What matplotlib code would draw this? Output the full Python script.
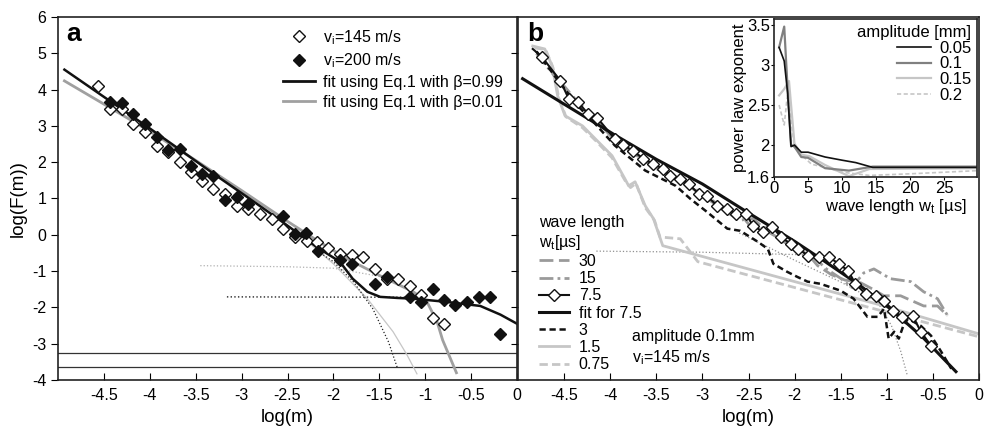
import matplotlib

matplotlib.use("Agg")
import matplotlib.pyplot as plt
from matplotlib.lines import Line2D

plt.rcParams["font.family"] = ["Liberation Sans", "DejaVu Sans"]
plt.rcParams["axes.unicode_minus"] = False
plt.rcParams["mathtext.default"] = "regular"

# ---- panel a: fragment mass distributions ----
open_x = [-4.56, -4.43, -4.30, -4.18, -4.05, -3.92, -3.80, -3.67, -3.55, -3.43, -3.31, -3.18, -3.05,
          -2.93, -2.80, -2.67, -2.55, -2.42, -2.29, -2.18, -2.06, -1.93, -1.80, -1.68, -1.55, -1.42,
          -1.30, -1.17, -1.05, -0.92, -0.80]
open_y = [4.10, 3.47, 3.47, 3.06, 2.84, 2.45, 2.29, 2.01, 1.74, 1.49, 1.27, 1.13, 0.80,
          0.72, 0.58, 0.44, 0.17, -0.06, -0.17, -0.19, -0.36, -0.52, -0.55, -0.60, -0.94, -1.21,
          -1.21, -1.40, -1.65, -2.29, -2.45]
fill_x = [-4.43, -4.30, -4.18, -4.05, -3.92, -3.80, -3.67, -3.55, -3.43, -3.31, -3.18, -3.05, -2.93,
          -2.55, -2.42, -2.30, -2.17, -1.93, -1.80, -1.55, -1.42, -1.17, -1.05, -0.92, -0.80, -0.68,
          -0.55, -0.41, -0.29, -0.18]
fill_y = [3.66, 3.64, 3.33, 3.06, 2.70, 2.34, 2.37, 1.90, 1.68, 1.62, 0.97, 1.03, 0.85,
          0.52, 0.03, 0.06, -0.44, -0.69, -0.80, -1.35, -1.15, -1.71, -1.85, -1.49, -1.79, -1.93,
          -1.85, -1.71, -1.71, -2.73]
fit099_x = [-4.93, -4.5, -4.0, -3.67, -3.31, -2.95, -2.58, -2.18, -1.93, -1.79, -1.63, -1.49,
            -1.3, -1.13, -0.76, -0.40, -0.18, 0.0]
fit099_y = [4.55, 3.8, 2.93, 2.34, 1.69, 1.06, 0.40, -0.34, -0.74, -1.21, -1.57, -1.71,
            -1.74, -1.76, -1.85, -1.96, -2.2, -2.45]
fit001_x = [-4.93, -4.5, -4.0, -3.5, -3.0, -2.5, -2.15, -1.85, -1.49, -1.13, -0.98, -0.87,
            -0.81, -0.76, -0.66]
fit001_y = [4.24, 3.6, 2.85, 2.05, 1.22, 0.37, -0.2, -0.66, -1.13, -1.57, -1.85, -2.40,
            -2.9, -3.2, -3.8]
dot_light_x = [-3.45, -2.5, -2.0, -1.55, -1.4]
dot_light_y = [-0.85, -0.88, -0.92, -1.12, -1.2]
dot_dark_x = [-3.16, -1.2]
dot_dark_y = [-1.71, -1.72]
cut_dark_x = [-2.2, -2.0, -1.78, -1.57, -1.40, -1.30]
cut_dark_y = [-0.4, -0.74, -1.30, -2.04, -2.95, -3.69]
cut_light_x = [-2.3, -2.0, -1.63, -1.35, -1.2, -1.09]
cut_light_y = [-0.15, -0.8, -1.76, -2.67, -3.3, -3.83]
limit_levels = [-3.25, -3.65]

# ---- panel b: wave length series (amplitude 0.1 mm) ----
wl30_x = [-4.8, -4.55, -4.35, -4.15, -3.95, -3.75, -3.55, -3.35, -3.15, -2.95, -2.75, -2.55,
          -2.45, -2.3, -2.15, -2.0, -1.85, -1.75, -1.6, -1.45, -1.3, -1.15, -1.03, -0.85, -0.6,
          -0.45, -0.34]
wl30_y = [5.05, 4.25, 3.65, 3.2, 2.62, 2.28, 1.95, 1.62, 1.38, 1.05, 0.7, 0.45,
          0.15, 0.2, -0.15, -0.35, -0.55, -0.85, -1.1, -1.25, -1.3, -1.5, -1.68, -1.68, -1.96,
          -1.96, -2.23]
wl15_x = [-4.8, -4.55, -4.35, -4.15, -3.95, -3.75, -3.55, -3.35, -3.15, -2.95, -2.75, -2.6,
          -2.45, -2.3, -2.1, -1.95, -1.8, -1.65, -1.5, -1.38, -1.25, -1.14, -0.96, -0.74, -0.6,
          -0.45, -0.34]
wl15_y = [5.0, 4.2, 3.62, 3.15, 2.6, 2.25, 1.9, 1.6, 1.35, 1.0, 0.65, 0.4,
          0.45, 0.1, -0.2, -0.45, -0.6, -0.95, -1.2, -1.45, -1.05, -0.94, -1.21, -1.29, -1.57,
          -1.76, -2.23]
wl75_x = [-4.84, -4.74, -4.54, -4.45, -4.35, -4.24, -4.14, -3.95, -3.86, -3.75, -3.64, -3.54,
          -3.43, -3.35, -3.24, -3.15, -3.04, -2.95, -2.84, -2.73, -2.64, -2.53, -2.45, -2.34,
          -2.24, -2.15, -2.04, -1.96, -1.85, -1.74, -1.63, -1.52, -1.42, -1.34, -1.23, -1.12,
          -1.03, -0.93, -0.83, -0.72, -0.63, -0.52]
wl75_y = [5.12, 4.90, 4.24, 3.75, 3.66, 3.33, 3.22, 2.64, 2.48, 2.31, 2.09, 1.96,
          1.82, 1.63, 1.54, 1.40, 1.13, 1.07, 0.80, 0.72, 0.58, 0.58, 0.25, 0.08,
          0.22, -0.06, -0.25, -0.39, -0.58, -0.61, -0.61, -0.80, -0.99, -1.35, -1.63, -1.68,
          -1.82, -2.09, -2.26, -2.23, -2.67, -3.06]
fit75_x = [-4.95, -4.5, -3.95, -3.5, -3.0, -2.53, -2.0, -1.68, -1.3, -0.96, -0.6, -0.25]
fit75_y = [4.3, 3.6, 2.75, 2.08, 1.4, 0.65, -0.18, -0.72, -1.38, -2.04, -2.85, -3.77]
wl3_x = [-4.8, -4.55, -4.35, -4.16, -3.95, -3.62, -3.29, -3.13, -2.95, -2.73, -2.59, -2.40,
         -2.29, -2.23, -2.08, -1.97, -1.86, -1.72, -1.50, -1.36, -1.21, -1.10, -1.03, -0.98,
         -0.92, -0.87, -0.82, -0.77, -0.63, -0.52, -0.41, -0.30]
wl3_y = [5.05, 4.2, 3.55, 3.05, 2.46, 1.77, 1.35, 0.99, 0.63, 0.17, 0.11, -0.19,
         -0.39, -0.80, -1.02, -1.16, -1.29, -1.35, -1.54, -1.76, -2.26, -2.26, -2.04, -2.86,
         -2.67, -2.86, -2.5, -2.31, -2.51, -2.78, -3.22, -3.69]
wl15s_x = [-4.84, -4.71, -4.63, -4.57, -4.49, -4.30, -4.16, -3.98, -3.84, -3.80, -3.73, -3.62,
           -3.53, -3.43, -1.03, 0.0]
wl15s_y = [5.2, 5.12, 4.66, 3.83, 3.28, 3.0, 2.64, 2.18, 1.54, 1.35, 1.46, 0.80,
           0.44, -0.30, -1.96, -2.73]
wl075_x = [-4.82, -4.70, -4.62, -4.56, -4.48, -4.30, -4.16, -3.98, -3.84, -3.78, -3.72, -3.62,
           -3.52, -3.46, -3.24, -3.05, 0.0]
wl075_y = [5.15, 5.1, 4.6, 3.8, 3.25, 2.95, 2.6, 2.12, 1.5, 1.3, 1.42, 0.75,
           0.4, -0.06, -0.11, -0.74, -2.81]
dotb_a_x = [-4.15, -3.0, -1.9]
dotb_a_y = [-0.45, -0.48, -0.55]
dotb_b_x = [-2.6, -2.0, -1.5, -1.1, -0.95, -0.85, -0.78]
dotb_b_y = [0.05, -0.7, -1.3, -1.85, -2.5, -3.2, -3.85]

# ---- inset: power law exponent vs wave length ----
amp005_x = [0.75, 1.5, 2.0, 2.5, 3.0, 4.0, 5.0, 7.5, 10, 12, 14.5, 30]
amp005_y = [3.22, 3.05, 2.65, 1.98, 2.0, 1.91, 1.91, 1.85, 1.81, 1.78, 1.72, 1.72]
amp01_x = [0.75, 1.5, 2.0, 2.5, 3.0, 4.0, 5.0, 7.5, 11, 14.5, 30]
amp01_y = [3.22, 3.48, 2.7, 2.0, 1.98, 1.85, 1.84, 1.71, 1.68, 1.73, 1.73]
amp015_x = [0.75, 1.5, 2.2, 3.0, 4.0, 5.2, 7.5, 11, 14, 30]
amp015_y = [2.62, 2.7, 2.8, 2.02, 1.88, 1.86, 1.75, 1.61, 1.70, 1.71]
amp02_x = [0.75, 1.5, 2.0, 3.0, 4.0, 5.5, 7.5, 10, 14, 20, 30]
amp02_y = [2.5, 2.25, 2.65, 1.97, 1.88, 1.76, 1.72, 1.66, 1.62, 1.64, 1.68]

x_ticks = [-4.5, -4, -3.5, -3, -2.5, -2, -1.5, -1, -0.5, 0]
x_ticklabels = ["-4.5", "-4", "-3.5", "-3", "-2.5", "-2", "-1.5", "-1", "-0.5", "0"]

BLACK = "#111111"
GRAY = "#8a8a8a"
LIGHT = "#c6c6c6"
W, H = 984, 433

fig = plt.figure(figsize=(9.84, 4.33), dpi=100)
ax_a = fig.add_axes([58 / W, 53 / H, 459 / W, 363 / H])
ax_b = fig.add_axes([518 / W, 53 / H, 461 / W, 363 / H])
ax_in = fig.add_axes([774 / W, 256 / H, 203 / W, 158 / H])

for ax in (ax_a, ax_b):
    ax.set_xlim(-5, 0)
    ax.set_ylim(-4, 6)
    ax.set_xticks(x_ticks, x_ticklabels)
    ax.tick_params(axis="x", direction="in", length=5, labelsize=11.5, pad=6)
    ax.tick_params(axis="y", direction="out", length=5, labelsize=11.5)
    ax.set_xlabel("log(m)", fontsize=13.5, labelpad=4)
    for sp in ax.spines.values():
        sp.set_linewidth(1.2)
        sp.set_color("#222222")

ax_a.set_yticks(range(-4, 7))
ax_a.set_ylabel("log(F(m))", fontsize=13.5, labelpad=4)
ax_b.set_yticks(range(-3, 6))
ax_b.tick_params(axis="y", labelleft=False)

# panel a
for lvl in limit_levels:
    ax_a.axhline(lvl, color="#333333", lw=0.9)
ax_a.plot(dot_light_x, dot_light_y, color="#b0b0b0", lw=0.9, ls=":")
ax_a.plot(dot_dark_x, dot_dark_y, color="#222222", lw=1.0, ls=":")
ax_a.plot(cut_light_x, cut_light_y, color=LIGHT, lw=0.9)
ax_a.plot(cut_dark_x, cut_dark_y, color="#222222", lw=0.9, ls=":")
ax_a.plot(fit001_x, fit001_y, color="#a0a0a0", lw=2.0)
ax_a.plot(fit099_x, fit099_y, color=BLACK, lw=1.8)
ax_a.plot(open_x, open_y, ls="none", marker="D", ms=6.5, mfc="white", mec=BLACK, mew=1.0)
ax_a.plot(fill_x, fill_y, ls="none", marker="D", ms=6.5, mfc=BLACK, mec=BLACK, mew=1.0)
ax_a.text(0.018, 0.985, "a", transform=ax_a.transAxes, fontsize=19, fontweight="bold",
          va="top", ha="left")
handles_a = [
    Line2D([], [], ls="none", marker="D", ms=6, mfc="white", mec=BLACK),
    Line2D([], [], ls="none", marker="D", ms=6, mfc=BLACK, mec=BLACK),
    Line2D([], [], color=BLACK, lw=2),
    Line2D([], [], color="#a0a0a0", lw=2),
]
labels_a = ["v$_i$=145 m/s", "v$_i$=200 m/s", "fit using Eq.1 with β=0.99",
            "fit using Eq.1 with β=0.01"]
ax_a.legend(handles_a, labels_a, loc="upper left", bbox_to_anchor=(0.49, 0.97), frameon=False,
            fontsize=11.5, handlelength=2.0, handletextpad=0.5, labelspacing=0.3,
            borderpad=0, borderaxespad=0)

# panel b
ax_b.plot(dotb_a_x, dotb_a_y, color="#909090", lw=0.9, ls=":")
ax_b.plot(dotb_b_x, dotb_b_y, color="#909090", lw=0.9, ls=":")
l075, = ax_b.plot(wl075_x, wl075_y, color=LIGHT, lw=2.0, ls=(0, (3, 1.5)))
l15s, = ax_b.plot(wl15s_x, wl15s_y, color=LIGHT, lw=2.0)
l30, = ax_b.plot(wl30_x, wl30_y, color="#9a9a9a", lw=2.0, ls=(0, (5, 2)))
l15, = ax_b.plot(wl15_x, wl15_y, color="#9a9a9a", lw=2.0, ls=(0, (5, 1.5, 1, 1.5)))
l3, = ax_b.plot(wl3_x, wl3_y, color=BLACK, lw=1.8, ls=(0, (2.5, 1.5)))
lfit, = ax_b.plot(fit75_x, fit75_y, color=BLACK, lw=2.2)
l75, = ax_b.plot(wl75_x, wl75_y, color=BLACK, lw=1.5, marker="D", ms=6, mfc="white",
                 mec=BLACK, mew=1.0, markevery=list(range(1, len(wl75_x))))
ax_b.text(0.02, 0.985, "b", transform=ax_b.transAxes, fontsize=19, fontweight="bold",
          va="top", ha="left")
leg_b = ax_b.legend([l30, l15, l75, lfit, l3, l15s, l075],
                    ["30", "15", "7.5", "fit for 7.5", "3", "1.5", "0.75"],
                    title="wave length\nw$_t$[µs]", loc="upper left",
                    bbox_to_anchor=(0.045, 0.455), frameon=False, fontsize=11.5,
                    title_fontsize=11.5, handlelength=1.9, handletextpad=0.6,
                    labelspacing=0.14, borderpad=0, borderaxespad=0, alignment="left")
ax_b.text(0.248, 0.035, "amplitude 0.1mm\nv$_i$=145 m/s", transform=ax_b.transAxes,
          fontsize=11.5, va="bottom", ha="left", linespacing=1.35)

# inset
ax_in.set_facecolor("white")
ax_in.plot(amp02_x, amp02_y, color=LIGHT, lw=1.2, ls=(0, (2.5, 1.5)), label="0.2")
ax_in.plot(amp015_x, amp015_y, color=LIGHT, lw=1.6, label="0.15")
ax_in.plot(amp01_x, amp01_y, color="#808080", lw=1.6, label="0.1")
ax_in.plot(amp005_x, amp005_y, color=BLACK, lw=1.2, label="0.05")
ax_in.set_xlim(0, 29.8)
ax_in.set_ylim(1.6, 3.575)
ax_in.set_xticks([0, 5, 10, 15, 20, 25])
ax_in.set_yticks([1.6, 2, 2.5, 3, 3.5], ["1.6", "2", "2.5", "3", "3.5"])
ax_in.tick_params(direction="out", length=2, labelsize=12, pad=1)
ax_in.set_ylabel("power law exponent", fontsize=12, labelpad=0)
ax_in.set_xlabel("wave length w$_t$ [µs]", fontsize=12)
ax_in.xaxis.set_label_coords(0.6, -0.125)
for sp in ax_in.spines.values():
    sp.set_linewidth(1.2)
    sp.set_color("#222222")
h, lab = ax_in.get_legend_handles_labels()
ax_in.legend(h[::-1], lab[::-1], title="amplitude [mm]", loc="upper right", frameon=False,
             fontsize=12, title_fontsize=12, handlelength=2.0, handletextpad=0.5,
             labelspacing=0.05, borderpad=0.15, borderaxespad=0.2, alignment="right")

fig.savefig("out.png", dpi=100)
